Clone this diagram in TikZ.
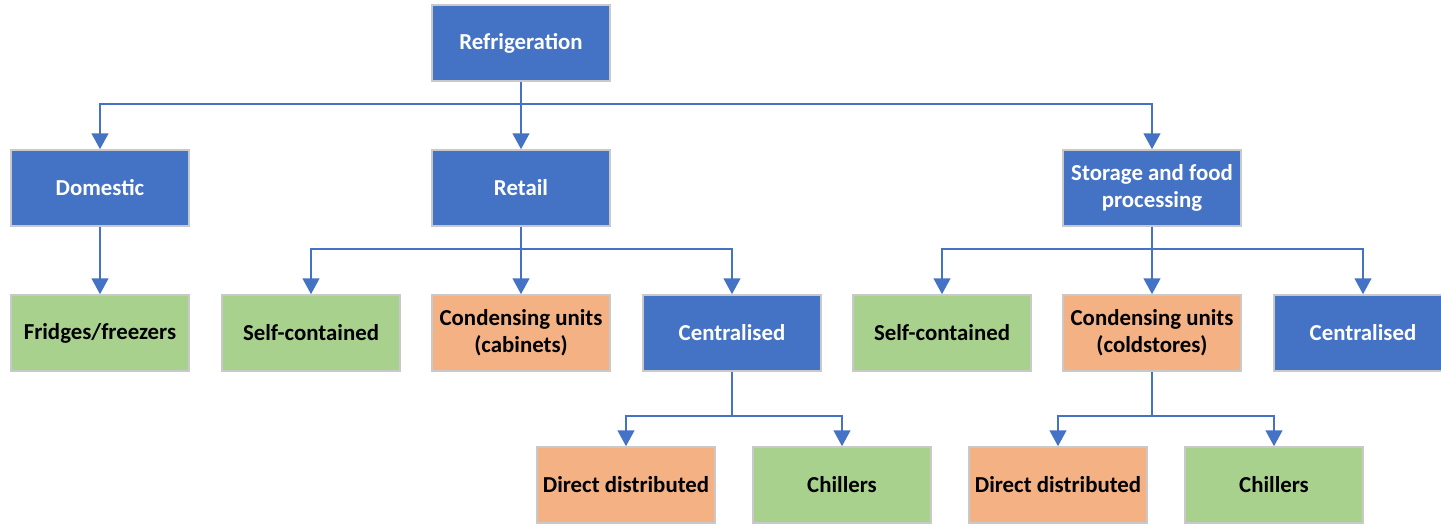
\documentclass[tikz,border=0pt]{standalone}
\usepackage{fontspec}
\setmainfont{Carlito}
\usetikzlibrary{arrows.meta}
\definecolor{boxblue}{HTML}{4472C4}
\definecolor{boxgreen}{HTML}{A9D18E}
\definecolor{boxorange}{HTML}{F4B183}
\definecolor{boxline}{HTML}{C9C9C9}
\begin{document}
\begin{tikzpicture}[x=0.02cm,y=-0.02cm,font=\fontsize{13}{15.5}\selectfont\bfseries]
    \tikzset{box/.style 2 args={draw=boxline, line width=0.9pt, fill=#1, text=#2, minimum width=3.56cm, minimum height=1.52cm, align=center, inner sep=2pt}};
    \tikzset{conn/.style={draw=boxblue, line width=1.1pt, -{Triangle[width=9.5pt,length=9pt]}}};
    \useasboundingbox (0,0) rectangle (1441,524);

    \node[box={boxblue}{white}] (ref) at (521,43) {Refrigeration};

    \node[box={boxblue}{white}] (dom) at (100,188) {Domestic};
    \node[box={boxblue}{white}] (ret) at (521,188) {Retail};
    \node[box={boxblue}{white}] (sto) at (1152,188) {Storage and food\\processing};

    \node[box={boxgreen}{black}] (fri) at (100,333) {Fridges/freezers};
    \node[box={boxgreen}{black}] (rself) at (311,333) {Self-contained};
    \node[box={boxorange}{black}] (rcond) at (521,333) {Condensing units\\(cabinets)};
    \node[box={boxblue}{white}] (rcen) at (732,333) {Centralised};
    \node[box={boxgreen}{black}] (sself) at (942,333) {Self-contained};
    \node[box={boxorange}{black}] (scond) at (1152,333) {Condensing units\\(coldstores)};
    \node[box={boxblue}{white}] (scen) at (1363,333) {Centralised};

    \node[box={boxorange}{black}] (rdir) at (626,485) {Direct distributed};
    \node[box={boxgreen}{black}] (rchi) at (842,485) {Chillers};
    \node[box={boxorange}{black}] (sdir) at (1058,485) {Direct distributed};
    \node[box={boxgreen}{black}] (schi) at (1274,485) {Chillers};

    \coordinate (b1) at (521,104);
    \coordinate (b2) at (521,249);
    \coordinate (b3) at (1152,249);
    \coordinate (b4) at (732,416);
    \coordinate (b5) at (1152,416);

    \draw[conn] (ref.south) -- (b1) -| (dom.north);
    \draw[conn] (ref.south) -- (ret.north);
    \draw[conn] (b1) -| (sto.north);

    \draw[conn] (dom.south) -- (fri.north);

    \draw[conn] (ret.south) -- (b2) -| (rself.north);
    \draw[conn] (ret.south) -- (rcond.north);
    \draw[conn] (b2) -| (rcen.north);

    \draw[conn] (sto.south) -- (b3) -| (sself.north);
    \draw[conn] (sto.south) -- (scond.north);
    \draw[conn] (b3) -| (scen.north);

    \draw[conn] (rcen.south) -- (b4) -| (rdir.north);
    \draw[conn] (b4) -| (rchi.north);

    \draw[conn] (scond.south) -- (b5) -| (sdir.north);
    \draw[conn] (b5) -| (schi.north);
\end{tikzpicture}
\end{document}
